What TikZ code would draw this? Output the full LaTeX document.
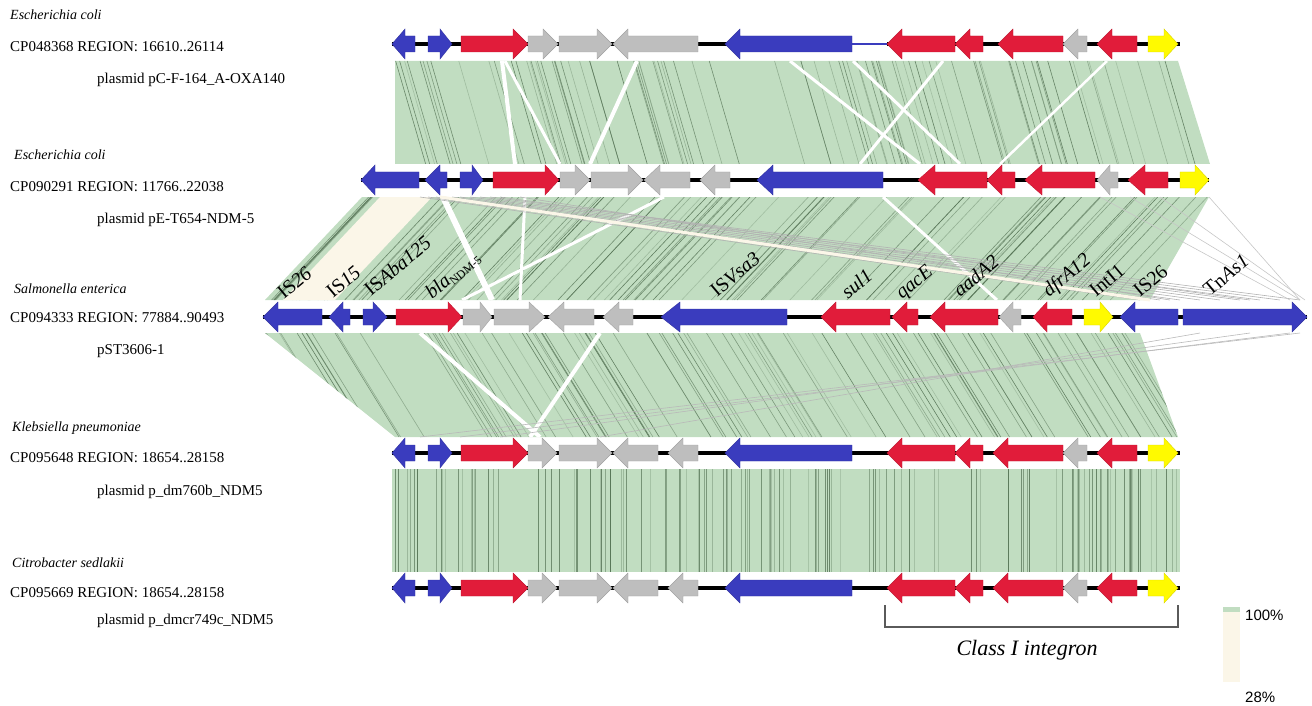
\documentclass[tikz,border=0pt]{standalone}
\usepackage{fontspec}
\setmainfont{Liberation Serif}
\newfontfamily\legendfont{Liberation Sans}
\definecolor{geneblue}{RGB}{58,60,190}
\definecolor{genered}{RGB}{225,28,58}
\definecolor{genegrey}{RGB}{190,190,190}
\definecolor{geneyellow}{RGB}{255,250,0}
\definecolor{hitgreen}{RGB}{193,221,193}
\definecolor{hitline}{RGB}{80,110,80}
\definecolor{hitcream}{RGB}{251,246,232}
\definecolor{bracketgrey}{RGB}{90,90,90}
% right-pointing gene: x1, x2, y, colour, head length
\newcommand\geneR[5]{\filldraw[#4,draw=#4!85!black,line width=0.4pt]
  (#1,#3-8) -- (#2-#5,#3-8) -- (#2-#5,#3-15) -- (#2,#3) -- (#2-#5,#3+15)
  -- (#2-#5,#3+8) -- (#1,#3+8) -- cycle;}
% left-pointing gene: x1 (tip), x2, y, colour, head length
\newcommand\geneL[5]{\filldraw[#4,draw=#4!85!black,line width=0.4pt]
  (#2,#3-8) -- (#1+#5,#3-8) -- (#1+#5,#3-15) -- (#1,#3) -- (#1+#5,#3+15)
  -- (#1+#5,#3+8) -- (#2,#3+8) -- cycle;}
\tikzset{
  backbone/.style={line width=3.5pt,black},
  species/.style={anchor=base west,font=\fontsize{14}{16}\selectfont\itshape,inner sep=0},
  accession/.style={anchor=west,font=\fontsize{15}{17}\selectfont,inner sep=0},
  plasmid/.style={anchor=west,font=\fontsize{15}{17}\selectfont,inner sep=0},
  genelabel/.style={anchor=base west,rotate=40,font=\fontsize{20}{22}\selectfont,inner sep=0},
  stripe/.style={white,line width=#1},
  hairline/.style={hitline,line width=#1},
}
\begin{document}
\begin{tikzpicture}[x=1pt,y=-1pt]
\useasboundingbox (0,0) rectangle (1312,706);

% ---------- similarity bands ----------
% band 1 -> 2
\begin{scope}
  \clip (395,61) -- (1178,61) -- (1210,164) -- (395,164) -- cycle;
  \fill[hitgreen] (380,55) rectangle (1220,170);
  \pgfmathsetseed{11}
  \foreach \i in {1,...,90}{
    \pgfmathsetmacro\xa{395+rnd*790}
    \pgfmathsetmacro\op{0.25+0.6*rnd}
    \draw[hairline=0.6pt,opacity=\op] (\xa,61) -- (\xa+30,164);
  }
  \draw[stripe=4pt] (502,61) -- (515,164);
  \draw[stripe=3pt] (505,61) -- (560,164);
  \draw[stripe=4pt] (637,61) -- (590,164);
  \draw[stripe=3pt] (790,61) -- (920,164);
  \draw[stripe=3pt] (853,61) -- (960,164);
  \draw[stripe=3pt] (943,61) -- (860,164);
  \draw[stripe=2.5pt] (1107,61) -- (1000,164);
\end{scope}

% band 2 -> 3
\begin{scope}
  \clip (362,197) -- (1209,197) -- (1150,300) -- (265,300) -- cycle;
  \fill[hitgreen] (250,190) rectangle (1220,305);
  \pgfmathsetseed{23}
  \foreach \i in {1,...,110}{
    \pgfmathsetmacro\xa{362+rnd*850}
    \pgfmathsetmacro\op{0.25+0.6*rnd}
    \draw[hairline=0.6pt,opacity=\op] (\xa,197) -- (\xa-97,300);
  }
  \fill[hitcream] (380,197) -- (432,197) -- (335,300) -- (283,300) -- cycle;
  \draw[stripe=6pt] (443,197) -- (492,300);
  \draw[stripe=3pt] (525,197) -- (520,300);
  \draw[stripe=3pt] (664,197) -- (462,300);
  \draw[stripe=3pt] (883,197) -- (997,300);
\end{scope}
% long low-identity hits into the IS26/TnAs1 region
\foreach \xa/\xb in {420/1140,428/1160,436/1180,444/1200,452/1220,460/1240,
                     470/1260,480/1280,490/1300,500/1250,520/1170}{
  \draw[gray!60,line width=0.6pt] (\xa,197) -- (\xb,300);
}
\draw[hitcream,line width=3pt] (440,197) -- (1150,300);
\foreach \xa/\xb in {1100/1290,1130/1300,1160/1305,1209/1300}{
  \draw[gray!45,line width=0.6pt] (\xa,197) -- (\xb,300);
}

% band 3 -> 4
\begin{scope}
  \clip (265,333) -- (1140,333) -- (1178,437) -- (395,437) -- cycle;
  \fill[hitgreen] (250,325) rectangle (1220,445);
  \pgfmathsetseed{37}
  \foreach \i in {1,...,100}{
    \pgfmathsetmacro\xa{265+rnd*880}
    \pgfmathsetmacro\op{0.25+0.6*rnd}
    \draw[hairline=0.6pt,opacity=\op] (\xa,333) -- (\xa+64,437);
  }
  \draw[stripe=4pt] (420,333) -- (540,437);
  \draw[stripe=4pt] (600,333) -- (530,437);
\end{scope}
\foreach \xa/\xb in {1300/420,1290/460,1250/500,1200/600}{
  \draw[gray!55,line width=0.6pt] (\xa,333) -- (\xb,437);
}

% band 4 -> 5
\begin{scope}
  \clip (392,469) rectangle (1180,572);
  \fill[hitgreen] (392,469) rectangle (1180,572);
  \pgfmathsetseed{53}
  \foreach \i in {1,...,130}{
    \pgfmathsetmacro\xa{392+rnd*788}
    \pgfmathsetmacro\op{0.2+0.6*rnd}
    \draw[hairline=0.6pt,opacity=\op] (\xa,469) -- (\xa,572);
  }
\end{scope}

% ---------- row 1 ----------
\draw[backbone] (392,44) -- (852,44);
\draw[geneblue,line width=2.5pt] (852,44) -- (887,44);
\draw[backbone] (887,44) -- (1180,44);
\geneL{392}{415}{44}{geneblue}{13}
\geneR{428}{452}{44}{geneblue}{12}
\geneR{461}{528}{44}{genered}{15}
\geneR{528}{558}{44}{genegrey}{15}
\geneR{559}{612}{44}{genegrey}{15}
\geneL{613}{698}{44}{genegrey}{15}
\geneL{725}{852}{44}{geneblue}{15}
\geneL{887}{955}{44}{genered}{15}
\geneL{955}{983}{44}{genered}{15}
\geneL{998}{1063}{44}{genered}{15}
\geneL{1063}{1087}{44}{genegrey}{15}
\geneL{1097}{1137}{44}{genered}{15}
\geneR{1148}{1178}{44}{geneyellow}{14}

% ---------- row 2 ----------
\draw[backbone] (361,180) -- (1209,180);
\geneL{361}{419}{180}{geneblue}{14}
\geneL{425}{447}{180}{geneblue}{15}
\geneR{460}{483}{180}{geneblue}{11}
\geneR{493}{559}{180}{genered}{14}
\geneR{560}{590}{180}{genegrey}{15}
\geneR{591}{643}{180}{genegrey}{15}
\geneL{644}{690}{180}{genegrey}{16}
\geneL{700}{730}{180}{genegrey}{15}
\geneL{757}{883}{180}{geneblue}{16}
\geneL{918}{987}{180}{genered}{17}
\geneL{987}{1015}{180}{genered}{15}
\geneL{1025}{1095}{180}{genered}{17}
\geneL{1097}{1118}{180}{genegrey}{13}
\geneL{1128}{1168}{180}{genered}{17}
\geneR{1180}{1209}{180}{geneyellow}{14}

% ---------- row 3 ----------
\draw[backbone] (263,317) -- (1307,317);
\geneL{263}{322}{317}{geneblue}{15}
\geneL{329}{350}{317}{geneblue}{14}
\geneR{363}{387}{317}{geneblue}{14}
\geneR{396}{462}{317}{genered}{14}
\geneR{463}{492}{317}{genegrey}{12}
\geneR{494}{545}{317}{genegrey}{16}
\geneL{548}{594}{317}{genegrey}{16}
\geneL{603}{633}{317}{genegrey}{16}
\geneL{661}{787}{317}{geneblue}{19}
\geneL{821}{890}{317}{genered}{15}
\geneL{892}{918}{317}{genered}{15}
\geneL{930}{998}{317}{genered}{15}
\geneL{999}{1021}{317}{genegrey}{14}
\geneL{1033}{1072}{317}{genered}{14}
\geneR{1084}{1113}{317}{geneyellow}{13}
\geneL{1120}{1178}{317}{geneblue}{15}
\geneR{1183}{1307}{317}{geneblue}{15}

% ---------- rows 4 and 5 ----------
\foreach \y in {453,588}{
  \draw[backbone] (392,\y) -- (1180,\y);
  \geneL{392}{415}{\y}{geneblue}{13}
  \geneR{428}{452}{\y}{geneblue}{12}
  \geneR{461}{528}{\y}{genered}{15}
  \geneR{528}{557}{\y}{genegrey}{15}
  \geneR{559}{612}{\y}{genegrey}{15}
  \geneL{613}{658}{\y}{genegrey}{15}
  \geneL{668}{698}{\y}{genegrey}{15}
  \geneL{725}{852}{\y}{geneblue}{15}
  \geneL{887}{955}{\y}{genered}{15}
  \geneL{955}{983}{\y}{genered}{15}
  \geneL{993}{1063}{\y}{genered}{15}
  \geneL{1063}{1087}{\y}{genegrey}{15}
  \geneL{1097}{1137}{\y}{genered}{15}
  \geneR{1148}{1178}{\y}{geneyellow}{14}
}

% ---------- gene names ----------
\node[genelabel] (lIS26a) at (284,300) {IS\textit{26}};
\node[genelabel] (lIS15) at (333,299) {IS\textit{15}};
\node[genelabel] (lISAba) at (371,297) {IS\textit{Aba125}};
\node[genelabel] (lbla) at (432,300) {\textit{bla}\textsubscript{\fontsize{12}{12}\selectfont NDM-5}};
\node[genelabel] (lISVsa) at (717,298) {IS\textit{Vsa3}};
\node[genelabel] (lsul) at (848,300) {\textit{sul1}};
\node[genelabel] (lqac) at (902,300) {\textit{qacE}};
\node[genelabel] (laad) at (960,298) {\textit{aadA2}};
\node[genelabel] (ldfr) at (1049,298) {\textit{dfrA12}};
\node[genelabel] (lint) at (1096,298) {IntI1};
\node[genelabel] (lIS26b) at (1140,298) {IS26};
\node[genelabel] (lTn) at (1210,297) {Tn\textit{As1}};

% ---------- sequence labels ----------
\node[species] (sp1) at (10,20) {Escherichia coli};
\node[accession] (ac1) at (10,47) {CP048368 REGION: 16610..26114};
\node[plasmid] (pl1) at (97,80) {plasmid pC-F-164\_A-OXA140};
\node[species] (sp2) at (14,160) {Escherichia coli};
\node[accession] (ac2) at (10,187) {CP090291 REGION: 11766..22038};
\node[plasmid] (pl2) at (97,220) {plasmid pE-T654-NDM-5};
\node[species] (sp3) at (14,293) {Salmonella enterica};
\node[accession] (ac3) at (10,318) {CP094333 REGION: 77884..90493};
\node[plasmid] (pl3) at (97,351) {pST3606-1};
\node[species] (sp4) at (12,431) {Klebsiella pneumoniae};
\node[accession] (ac4) at (10,458) {CP095648 REGION: 18654..28158};
\node[plasmid] (pl4) at (97,492) {plasmid p\_dm760b\_NDM5};
\node[species] (sp5) at (12,567) {Citrobacter sedlakii};
\node[accession] (ac5) at (10,593) {CP095669 REGION: 18654..28158};
\node[plasmid] (pl5) at (97,621) {plasmid p\_dmcr749c\_NDM5};

% ---------- integron bracket ----------
\coordinate (brL) at (885,605);
\coordinate (brR) at (1178,605);
\draw[bracketgrey,line width=1.2pt] (brL) -- ++(0,22) -| (brR);
\node[font=\fontsize{22}{24}\selectfont\itshape] (integron) at (1027,650) {Class I integron};

% ---------- identity scale ----------
\fill[hitcream] (1223,611) rectangle (1240,682);
\fill[hitgreen] (1223,607) rectangle (1240,612);
\node[anchor=west,font=\legendfont\fontsize{15}{17}\selectfont,inner sep=0] (s100) at (1245,615) {100\%};
\node[anchor=west,font=\legendfont\fontsize{15}{17}\selectfont,inner sep=0] (s28) at (1245,697) {28\%};
\end{tikzpicture}
\end{document}
